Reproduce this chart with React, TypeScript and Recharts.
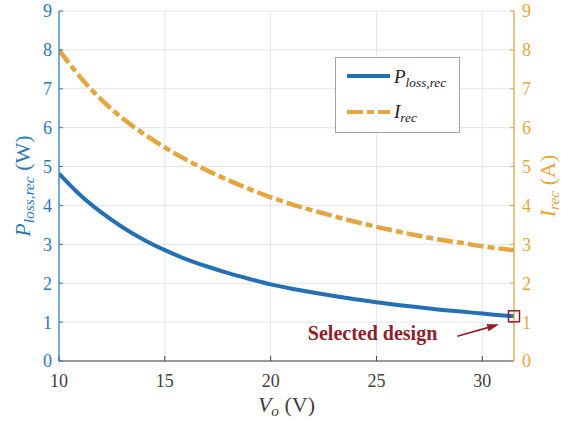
import React from 'react';
import {
  ComposedChart,
  Line,
  XAxis,
  YAxis,
  CartesianGrid,
  Legend,
  ReferenceDot,
  ReferenceLine,
} from 'recharts';

// Output voltage sweep (V)
const voltage = [10, 11, 12, 13, 14, 15, 16, 17, 18, 19, 20, 21, 22, 23, 24, 25, 26, 27, 28, 29, 30, 31, 31.5];
// Rectifier conduction loss (W)
const powerLoss = [4.82, 4.27, 3.82, 3.44, 3.12, 2.85, 2.62, 2.43, 2.26, 2.11, 1.97, 1.86, 1.76, 1.67, 1.59, 1.51, 1.44, 1.38, 1.32, 1.27, 1.22, 1.17, 1.15];
// Rectifier current (A)
const current = [8.0, 7.3, 6.72, 6.24, 5.84, 5.49, 5.18, 4.9, 4.65, 4.42, 4.21, 4.03, 3.87, 3.72, 3.58, 3.45, 3.33, 3.22, 3.12, 3.04, 2.95, 2.88, 2.85];

const xTicks = [10, 15, 20, 25, 30];
const yTicks = [0, 1, 2, 3, 4, 5, 6, 7, 8, 9];

// Selected operating point and its annotation arrow
const selectedIndex = voltage.length - 1;
const arrowFrom = { x: 28.82, y: 0.635 };
const arrowTo = { x: 30.76, y: 0.936 };
const annotationText = 'Selected design';

const rows = voltage.map((v, i) => ({ v, p: powerLoss[i], i: current[i] }));

const BLUE = '#2470B2';
const BLUE_AXIS = '#2D78BB';
const ORANGE = '#E4A640';
const ORANGE_AXIS = '#E8A53A';
const GRAY = '#404040';
const RED = '#8E1F2B';
const SERIF = 'Liberation Serif';
const DASH = '16 4 7 4';

const XLabel = (props: any) => {
  const vb = props.viewBox || { x: 59, y: 361, width: 455, height: 63 };
  const cx = vb.x + vb.width / 2;
  const y = vb.y + 51;
  return (
    <text x={cx} y={y} textAnchor="middle" fill={GRAY} style={{ fontFamily: SERIF }} fontSize={22}>
      <tspan fontStyle="italic">V</tspan>
      <tspan fontStyle="italic" fontSize={15.4} dy={4}>o</tspan>
      <tspan dy={-4}>{'\u00A0(V)'}</tspan>
    </text>
  );
};

const LeftLabel = (props: any) => {
  const vb = props.viewBox || { x: 0, y: 11, width: 59, height: 350 };
  const x = vb.x + 30;
  const cy = vb.y + vb.height / 2;
  return (
    <text
      x={x}
      y={cy}
      transform={`rotate(-90, ${x}, ${cy})`}
      textAnchor="middle"
      fill={BLUE_AXIS}
      style={{ fontFamily: SERIF }}
      fontSize={22}
    >
      <tspan fontStyle="italic">P</tspan>
      <tspan fontStyle="italic" fontSize={15.4} dy={4}>loss,rec</tspan>
      <tspan dy={-4}>{'\u00A0(W)'}</tspan>
    </text>
  );
};

const RightLabel = (props: any) => {
  const vb = props.viewBox || { x: 514, y: 11, width: 52, height: 350 };
  const x = vb.x + 40.5;
  const cy = vb.y + vb.height / 2;
  return (
    <text
      x={x}
      y={cy}
      transform={`rotate(-90, ${x}, ${cy})`}
      textAnchor="middle"
      fill={ORANGE_AXIS}
      style={{ fontFamily: SERIF }}
      fontSize={22}
    >
      <tspan fontStyle="italic">I</tspan>
      <tspan fontStyle="italic" fontSize={15.4} dy={4}>rec</tspan>
      <tspan dy={-4}>{'\u00A0(A)'}</tspan>
    </text>
  );
};

const LegendBox = () => (
  <svg width={125} height={76} style={{ display: 'block' }}>
    <rect x={0.5} y={0.5} width={124} height={75} fill="#ffffff" stroke="#A3A3A3" strokeWidth={1} />
    <line x1={12} x2={55} y1={19} y2={19} stroke={BLUE} strokeWidth={4} />
    <text x={59} y={26} fill="#222" style={{ fontFamily: SERIF }} fontSize={19} fontStyle="italic">
      P<tspan fontSize={13.3} dy={3.5}>loss,rec</tspan>
    </text>
    <line x1={12} x2={55} y1={55} y2={55} stroke={ORANGE} strokeWidth={4} strokeDasharray={DASH} />
    <text x={59} y={61} fill="#222" style={{ fontFamily: SERIF }} fontSize={19} fontStyle="italic">
      I<tspan fontSize={13.3} dy={3.5}>rec</tspan>
    </text>
  </svg>
);

const SquareMarker = (props: any) => {
  const { cx, cy } = props;
  if (cx == null || cy == null) return null;
  return <rect x={cx - 5.5} y={cy - 5.5} width={11} height={11} fill="none" stroke={RED} strokeWidth={1.5} />;
};

const ArrowShape = (props: any) => {
  const { x1, y1, x2, y2 } = props;
  if ([x1, y1, x2, y2].some((n) => n == null || isNaN(n))) return null;
  const ang = Math.atan2(y2 - y1, x2 - x1);
  const len = 11;
  const half = 3.5;
  const c = Math.cos(ang);
  const s = Math.sin(ang);
  const bx = x2 - len * c;
  const by = y2 - len * s;
  const pts = `${x2},${y2} ${bx - half * s},${by + half * c} ${bx + half * s},${by - half * c}`;
  return (
    <g>
      <line x1={x1} y1={y1} x2={bx} y2={by} stroke={RED} strokeWidth={1.6} />
      <polygon points={pts} fill={RED} stroke={RED} strokeWidth={0.5} />
      <text
        x={x1 - 20}
        y={y1 + 4}
        textAnchor="end"
        fill={RED}
        style={{ fontFamily: SERIF }}
        fontWeight="bold"
        fontSize={20}
      >
        {annotationText}
      </text>
    </g>
  );
};

export default function App() {
  return (
    <div style={{ position: 'absolute', left: 0, top: 0, width: 566, height: 424, background: '#fff', fontFamily: SERIF }}>
      <ComposedChart width={566} height={424} data={rows} margin={{ top: 11, right: 0, bottom: 0, left: 0 }}>
        <CartesianGrid yAxisId="left" stroke="#E4E4EE" strokeWidth={1} />
        <XAxis
          dataKey="v"
          type="number"
          domain={[10, 31.5]}
          ticks={xTicks}
          allowDataOverflow
          height={63}
          tickSize={-5}
          tickMargin={18}
          stroke={GRAY}
          axisLine={{ stroke: GRAY, strokeWidth: 1.2 }}
          tickLine={{ stroke: GRAY }}
          tick={{ fill: GRAY, fontSize: 18, style: { fontFamily: SERIF } }}
          label={<XLabel />}
        />
        <YAxis
          yAxisId="left"
          orientation="left"
          type="number"
          domain={[0, 9]}
          ticks={yTicks}
          width={59}
          tickSize={-4}
          tickMargin={11}
          stroke={BLUE_AXIS}
          axisLine={{ stroke: BLUE_AXIS, strokeWidth: 1.2 }}
          tickLine={{ stroke: BLUE_AXIS }}
          tick={{ fill: BLUE_AXIS, fontSize: 18, style: { fontFamily: SERIF } }}
          label={<LeftLabel />}
        />
        <YAxis
          yAxisId="right"
          orientation="right"
          type="number"
          domain={[0, 9]}
          ticks={yTicks}
          width={52}
          tickSize={-4}
          tickMargin={12}
          stroke={ORANGE_AXIS}
          axisLine={{ stroke: ORANGE_AXIS, strokeWidth: 1.2 }}
          tickLine={{ stroke: ORANGE_AXIS }}
          tick={{ fill: ORANGE_AXIS, fontSize: 18, style: { fontFamily: SERIF } }}
          label={<RightLabel />}
        />
        <Line
          yAxisId="right"
          dataKey="i"
          type="monotone"
          stroke={ORANGE}
          strokeWidth={4.5}
          strokeDasharray={DASH}
          dot={false}
          activeDot={false}
          isAnimationActive={false}
        />
        <Line
          yAxisId="left"
          dataKey="p"
          type="monotone"
          stroke={BLUE}
          strokeWidth={4}
          dot={false}
          activeDot={false}
          isAnimationActive={false}
        />
        <ReferenceLine
          yAxisId="left"
          segment={[arrowFrom, arrowTo]}
          ifOverflow="visible"
          shape={(p: any) => <ArrowShape {...p} />}
        />
        <ReferenceDot
          yAxisId="left"
          x={voltage[selectedIndex]}
          y={powerLoss[selectedIndex]}
          ifOverflow="visible"
          shape={(p: any) => <SquareMarker {...p} />}
        />
        <Legend
          layout="horizontal"
          verticalAlign="middle"
          align="center"
          width={125}
          height={76}
          wrapperStyle={{ left: 335, top: 57, width: 125, height: 76 }}
          content={() => <LegendBox />}
        />
      </ComposedChart>
    </div>
  );
}
